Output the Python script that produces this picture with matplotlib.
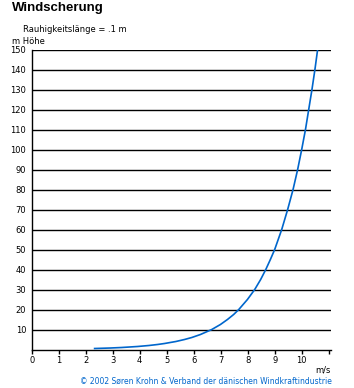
import matplotlib
matplotlib.use("Agg")
import matplotlib.pyplot as plt

# wind profile (roughness length 0.1 m)
heights = [0.5, 0.75, 1, 1.5, 2, 2.5, 3, 4, 5, 6, 7.5, 10, 12.5, 15, 17.5, 20, 25,
           30, 35, 40, 45, 50, 60, 70, 80, 90, 100, 110, 120, 130, 140, 150]
speeds = [2.33, 2.92, 3.33, 3.92, 4.34, 4.66, 4.92, 5.34, 5.66, 5.93, 6.25, 6.67,
          6.99, 7.25, 7.48, 7.67, 7.99, 8.26, 8.48, 8.67, 8.84, 9.00, 9.26, 9.48,
          9.68, 9.85, 10.0, 10.14, 10.26, 10.38, 10.49, 10.59]

x_ticks = list(range(0, 12))
x_labels = [str(i) for i in range(0, 11)] + [""]
y_ticks = list(range(10, 160, 10))

W, H = 354, 388
fig = plt.figure(figsize=(W / 100, H / 100), dpi=100)
fig.patch.set_facecolor("white")

x0, x1 = 31.7, 331
y0, y1 = 349.5, 49.5
ax = fig.add_axes([x0 / W, 1 - y0 / H, (x1 - x0) / W, (y0 - y1) / H])
ax.set_xlim(0, (x1 - x0) / 27.0)
ax.set_ylim(0, 150)

for y in y_ticks:
    ax.axhline(y, color="black", lw=1.0, zorder=1)

ax.plot(speeds, heights, color="#0066cc", lw=1.2, zorder=3)

for s in ["top", "right"]:
    ax.spines[s].set_visible(False)
for s in ["left", "bottom"]:
    ax.spines[s].set_linewidth(1.0)

ax.set_xticks(x_ticks)
ax.set_xticklabels(x_labels, fontsize=6)
ax.set_yticks(y_ticks)
ax.set_yticklabels([str(v) for v in y_ticks], fontsize=6)
ax.tick_params(axis="x", length=3, width=1, pad=2)
ax.tick_params(axis="y", length=0, pad=4)

fig.text(12 / W, 1 - 7.5 / H, "Windscherung", fontsize=9.5, fontweight="bold",
         family="Liberation Sans", ha="left", va="center")
fig.text(23 / W, 1 - 30 / H, "Rauhigkeitslänge = .1 m", fontsize=6,
         ha="left", va="center")
fig.text(12 / W, 1 - 41 / H, "m Höhe", fontsize=6, ha="left", va="center")
fig.text(331 / W, 1 - 370 / H, "m/s", fontsize=6, ha="right", va="center")
fig.text(332 / W, 1 - 381 / H,
         "© 2002 Søren Krohn & Verband der dänischen Windkraftindustrie",
         fontsize=5.5, color="#0066cc", ha="right", va="center")

fig.savefig("out.png", dpi=100)
